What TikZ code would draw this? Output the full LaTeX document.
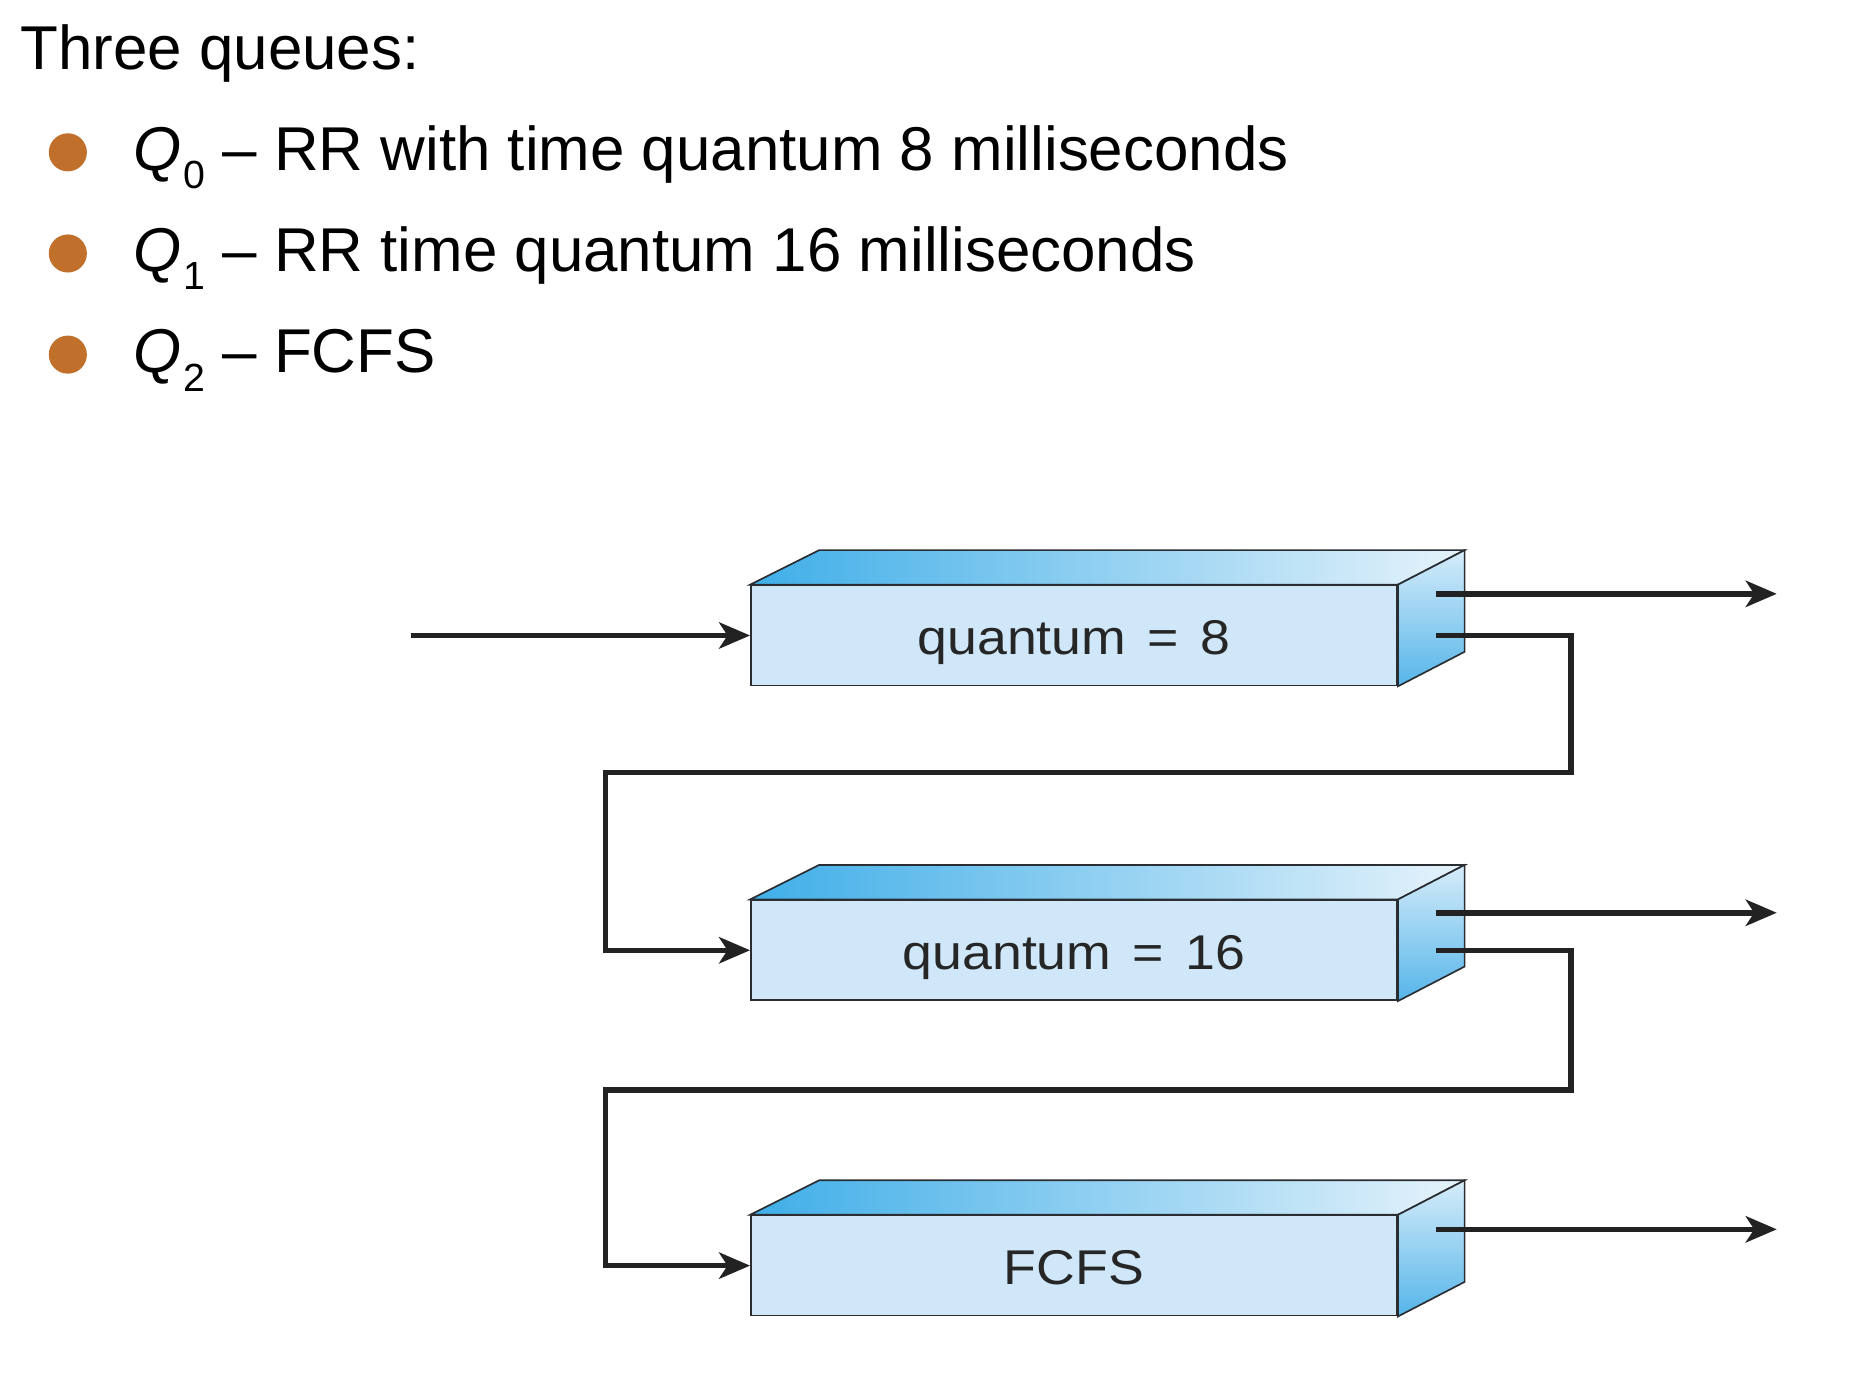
\documentclass[tikz,border=0pt]{standalone}
\usepackage{fontspec}
\setmainfont{Liberation Sans}
\newfontfamily\boxfont[FakeStretch=1.1]{Liberation Sans}
\usetikzlibrary{arrows.meta,calc}
\definecolor{bulletc}{HTML}{C1702B}
\definecolor{frontc}{HTML}{CFE7F8}
\definecolor{topl}{HTML}{3FAEE8}
\definecolor{topr}{HTML}{E6F3FB}
\definecolor{sidet}{HTML}{D6ECFA}
\definecolor{sideb}{HTML}{55B5E9}
\definecolor{edgec}{HTML}{2A2E33}
\definecolor{linec}{HTML}{222222}
\definecolor{boxtext}{HTML}{262626}
\newcommand\qsub[1]{{\itshape Q}\kern0.03em\raisebox{-0.3em}{\fontsize{33}{33}\selectfont #1}}
\newcommand\eqsp{\hspace{18pt}}
\tikzset{
  qbox/.style={draw=edgec, line width=1.4pt, fill=frontc, minimum width=543pt, minimum height=84pt, inner sep=0pt, text height=36pt, text depth=4pt, text=boxtext, font=\boxfont\fontsize{41}{44}\selectfont},
  face/.style={draw=edgec, line width=1.4pt},
  conn/.style={draw=linec, line width=4.6pt},
  arr/.style={conn, -{Stealth[length=26pt,width=22pt,inset=7pt]}},
  bigtext/.style={anchor=base west, inner sep=0pt, font=\fontsize{52}{56}\selectfont},
  bul/.style={circle, fill=bulletc, minimum size=32pt, inner sep=0pt}
}
\begin{document}
\begin{tikzpicture}[x=1pt,y=-1pt]
\useasboundingbox (0,0) rectangle (1568,1161);
% text
\node[bigtext] (title) at (17,58) {Three queues:};
\node[bul] (b0) at (57,128) {};
\node[bul] (b1) at (57,213) {};
\node[bul] (b2) at (57,298) {};
\node[bigtext] (t0) at (112,143) {\qsub{0} – RR with time quantum 8 milliseconds};
\node[bigtext] (t1) at (112,228) {\qsub{1} – RR time quantum 16 milliseconds};
\node[bigtext] (t2) at (112,313) {\qsub{2} – FCFS};
% boxes
\foreach \n/\y/\lab in {q0/534/{quantum\eqsp=\eqsp8}, q1/798.5/{quantum\eqsp=\eqsp16}, q2/1063.5/FCFS}{
  \node[qbox] (\n) at (902.5,\y) {\lab};
  \shade[face, left color=topl, right color=topr]
    (\n.north west) -- ++(58,-29) -- ($(\n.north east)+(56,-29)$) -- (\n.north east) -- cycle;
  \shade[face, shading angle=35, top color=sidet, bottom color=sideb]
    (\n.north east) -- ++(56,-29) -- ($(\n.south east)+(56,-29)$) -- (\n.south east) -- cycle;
}
% connector end points
\coordinate (in0) at (345,534);
\coordinate (o0a) at (1207,499);
\coordinate (o0b) at (1207,534);
\coordinate (e0) at (1493,499);
\coordinate (o1a) at (1207,767);
\coordinate (o1b) at (1207,798.5);
\coordinate (e1) at (1493,767);
\coordinate (o2a) at (1207,1033);
\coordinate (e2) at (1493,1033);
\coordinate (r0) at (1320,649);
\coordinate (l0) at (509,649);
\coordinate (r1) at (1320,916);
\coordinate (l1) at (509,916);
% connectors
\draw[arr] (in0) -- (q0.west);
\draw[arr] (o0a) -- (e0);
\draw[arr] (o1a) -- (e1);
\draw[arr] (o2a) -- (e2);
\draw[arr] (o0b) -| (r0) -- (l0) |- (q1.west);
\draw[arr] (o1b) -| (r1) -- (l1) |- (q2.west);
\end{tikzpicture}
\end{document}
